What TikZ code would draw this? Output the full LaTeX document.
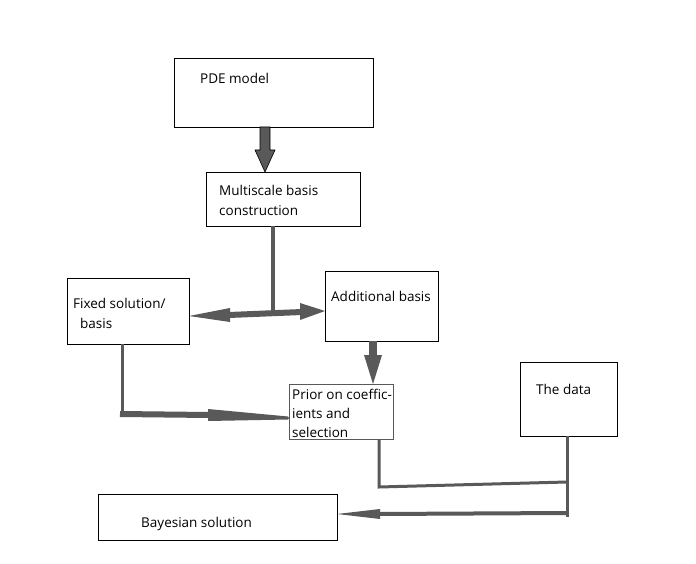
\documentclass[tikz,border=0pt]{standalone}
\usepackage{fontspec}
\setmainfont{Open Sans}
\usetikzlibrary{arrows.meta,calc}
\definecolor{lc}{HTML}{595959}
\begin{document}
\begin{tikzpicture}[x=1pt,y=-1pt,
  box/.style={draw=black,line width=0.9pt,fill=white,anchor=north west,inner sep=0pt},
  txt/.style={anchor=base west,inner sep=0pt,font=\fontsize{13.5}{16}\selectfont},
  conn/.style={draw=lc,line width=3pt},
  head/.style={fill=lc,draw=none}]
\useasboundingbox[fill=white] (0,0) rectangle (696,564);
% boxes
\node[box,minimum width=199pt,minimum height=69pt] (pde) at (174,58) {};
\node[box,minimum width=154pt,minimum height=54pt] (ms) at (206,172) {};
\node[box,minimum width=122pt,minimum height=66pt] (fix) at (67,278) {};
\node[box,minimum width=113pt,minimum height=70pt] (add) at (325,271) {};
\node[box,draw=lc,line width=0.7pt,minimum width=104pt,minimum height=55pt] (pri) at (289,384) {};
\node[box,minimum width=97pt,minimum height=74pt] (dat) at (520,362) {};
\node[box,minimum width=239pt,minimum height=46pt] (bay) at (98,494) {};
% texts
\node[txt] (t1) at (200,84) {PDE model};
\node[txt] (t2) at (219,196) {Multiscale basis};
\node[txt] (t3) at (219,216) {construction};
\node[txt] (t4) at (73,308) {Fixed solution/};
\node[txt] (t5) at (80,328) {basis};
\node[txt] (t6) at (331,301) {Additional basis};
\node[txt] (t7) at (292,399) {Prior on coeffic-};
\node[txt] (t8) at (292,418) {ients and};
\node[txt] (t9) at (292,437) {selection};
\node[txt] (t10) at (536,394) {The data};
\node[txt] (t11) at (141,527) {Bayesian solution};
% coordinates
\coordinate (msb) at (273,226);
\coordinate (j1) at (273,313);
\coordinate (fixL) at (189,316);
\coordinate (addL) at (325,311);
\coordinate (fb) at (122,344);
\coordinate (fc) at (122,411);
\coordinate (fh) at (120,414);
\coordinate (prL) at (289,418);
\coordinate (pb) at (379,439);
\coordinate (pc) at (379,487);
\coordinate (dj) at (567,482);
\coordinate (db) at (567,436);
\coordinate (de) at (567,517);
\coordinate (dh) at (567,513);
\coordinate (bayR) at (337,514);
% PDE -> Multiscale block arrow
\draw[draw=black,fill=lc,line width=0.6pt] (260,127) -- (270,127) -- (270,150) -- (275,150) -- (265,172) -- (255,150) -- (260,150) -- cycle;
% Multiscale -> junction
\draw[conn,line width=4pt] (msb) -- (j1);
% double arrow
\draw[draw=lc,line width=6pt] (229,315) -- (302,312);
\fill[head] (fixL) -- (230,308) -- (230,322) -- cycle;
\fill[head] (addL) -- (300,303) -- (300,320) -- cycle;
% Additional -> Prior
\draw[draw=lc,line width=8pt] (373,341) -- (373,356);
\fill[head] (373,384) -- (364,355) -- (382,355) -- cycle;
% Fixed -> Prior
\draw[conn] (fb) -- (fc);
\draw[draw=lc,line width=6pt] (fh) -- (209,415);
\fill[head] (prL) -- (288,416.5) -- (208,409) -- (208,421) -- (288,419.5) -- cycle;
% Prior -> data junction
\draw[conn] (pb) -- (pc) -- (dj);
\draw[conn] (db) -- (de);
% data -> Bayesian
\draw[draw=lc,line width=4pt] (dh) -- (379,514);
\fill[head] (bayR) -- (380,509) -- (380,519) -- cycle;
\end{tikzpicture}
\end{document}
